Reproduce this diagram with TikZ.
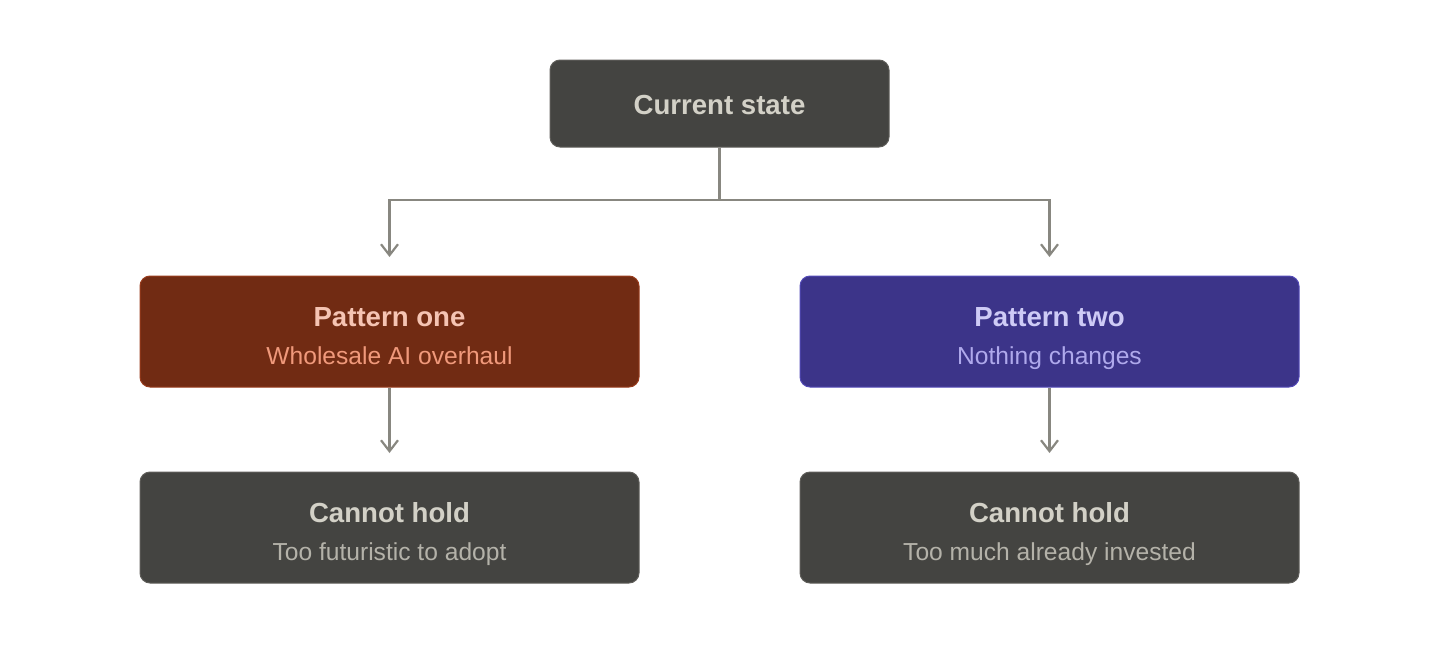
\documentclass[tikz,border=0pt]{standalone}
\usepackage{fontspec}
\setmainfont{Liberation Sans}
\usetikzlibrary{arrows.meta}
\definecolor{grayfill}{HTML}{444441}
\definecolor{grayline}{HTML}{5F5E5A}
\definecolor{graytitle}{HTML}{D3D1C7}
\definecolor{graysub}{HTML}{B4B2A9}
\definecolor{coralfill}{HTML}{712B13}
\definecolor{coralline}{HTML}{993C1D}
\definecolor{coraltitle}{HTML}{F5C4B3}
\definecolor{coralsub}{HTML}{F0997B}
\definecolor{purplefill}{HTML}{3C3489}
\definecolor{purpleline}{HTML}{534AB7}
\definecolor{purpletitle}{HTML}{CECBF6}
\definecolor{purplesub}{HTML}{AFA9EC}
\definecolor{connector}{HTML}{888780}
\tikzset{
  box/.style={rectangle, rounded corners=10pt, line width=1pt, inner sep=0pt},
  graybox/.style={box, fill=grayfill, draw=grayline},
  coralbox/.style={box, fill=coralfill, draw=coralline},
  purplebox/.style={box, fill=purplefill, draw=purpleline},
  wide/.style={minimum width=499pt, minimum height=111pt},
  ttl/.style={anchor=base, inner sep=0pt, font=\fontsize{27.6}{30}\selectfont\bfseries},
  sub/.style={anchor=base, inner sep=0pt, font=\fontsize{24.6}{27}\selectfont},
  conn/.style={draw=connector, line width=2.2pt, -{Straight Barb[length=11pt,width=17pt,line width=2.2pt]}},
  connplain/.style={draw=connector, line width=2.2pt}
}
\begin{document}
\begin{tikzpicture}[x=1pt,y=-1pt]
\useasboundingbox (0,0) rectangle (1440,664);
% top
\node[graybox, minimum width=339pt, minimum height=87pt] (cs) at (719.5,103.5) {};
\node[ttl, text=graytitle] (cst) at (719.5,114) {Current state};
% patterns
\node[coralbox, wide] (p1) at (389.5,331.5) {};
\node[ttl, text=coraltitle] (p1t) at (389.5,326) {Pattern one};
\node[sub, text=coralsub] (p1s) at (389.5,364) {Wholesale AI overhaul};
\node[purplebox, wide] (p2) at (1049.5,331.5) {};
\node[ttl, text=purpletitle] (p2t) at (1049.5,326) {Pattern two};
\node[sub, text=purplesub] (p2s) at (1049.5,364) {Nothing changes};
% results
\node[graybox, wide] (r1) at (389.5,527.5) {};
\node[ttl, text=graytitle] (r1t) at (389.5,522) {Cannot hold};
\node[sub, text=graysub] (r1s) at (389.5,560) {Too futuristic to adopt};
\node[graybox, wide] (r2) at (1049.5,527.5) {};
\node[ttl, text=graytitle] (r2t) at (1049.5,522) {Cannot hold};
\node[sub, text=graysub] (r2s) at (1049.5,560) {Too much already invested};
% connectors
\coordinate (split) at (719.5,200);
\coordinate (p1in) at (389.5,257);
\coordinate (p2in) at (1049.5,257);
\coordinate (r1in) at (389.5,453);
\coordinate (r2in) at (1049.5,453);
\draw[connplain] (cs.south) -- (split);
\draw[conn] (split) -| (p1in);
\draw[conn] (split) -| (p2in);
\draw[conn] (p1.south) -- (r1in);
\draw[conn] (p2.south) -- (r2in);
\end{tikzpicture}
\end{document}
